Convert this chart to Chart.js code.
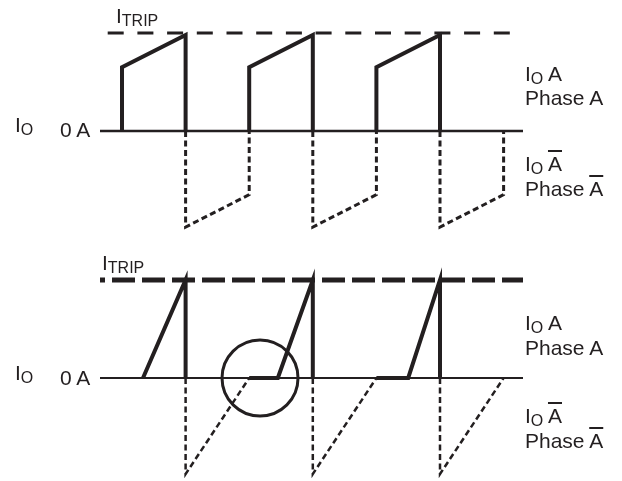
<!DOCTYPE html>
<html>
<head>
<meta charset="utf-8">
<script src="https://cdn.jsdelivr.net/npm/chart.js@4"></script>
<style>
  html, body { margin: 0; padding: 0; background: #ffffff; width: 622px; height: 481px; overflow: hidden; }
  .panel { position: absolute; left: 0; width: 622px; }
  .lbl { position: absolute; font-family: "Liberation Sans", Arial, sans-serif; font-size: 21px; line-height: 21px; color: #231f20; white-space: nowrap; }
  .sub { font-size: 16px; vertical-align: -3px; }
  .ov { text-decoration: overline; text-decoration-thickness: 2px; }
</style>
</head>
<body>
<div class="panel" style="top:0;height:240px"><canvas id="top" width="622" height="240"></canvas></div>
<div class="panel" style="top:240px;height:241px"><canvas id="bot" width="622" height="241"></canvas></div>

<div class="lbl" style="left:116px;top:5px">I<span class="sub">TRIP</span></div>
<div class="lbl" style="left:15px;top:114px">I<span class="sub">O</span></div>
<div class="lbl" style="left:60px;top:119px">0 A</div>
<div class="lbl" style="left:525px;top:63px">I<span class="sub">O</span> A</div>
<div class="lbl" style="left:525px;top:87px">Phase A</div>
<div class="lbl" style="left:525px;top:153px">I<span class="sub">O</span> <span class="ov">A</span></div>
<div class="lbl" style="left:525px;top:178px">Phase <span class="ov">A</span></div>

<div class="lbl" style="left:102px;top:252px">I<span class="sub">TRIP</span></div>
<div class="lbl" style="left:15px;top:362px">I<span class="sub">O</span></div>
<div class="lbl" style="left:60px;top:367px">0 A</div>
<div class="lbl" style="left:525px;top:312px">I<span class="sub">O</span> A</div>
<div class="lbl" style="left:525px;top:337px">Phase A</div>
<div class="lbl" style="left:525px;top:405px">I<span class="sub">O</span> <span class="ov">A</span></div>
<div class="lbl" style="left:525px;top:430px">Phase <span class="ov">A</span></div>

<script>
// ---- Data (time in half-periods, current relative to I_TRIP) ----
const tripLevel = 1;
const zeroLevel = 0;
const timeStart = -0.346;
const timeEnd = 6.305;

// Top panel: Phase A (solid) and Phase A-bar (dashed)
const topTimeA    = [0, 0,    1,    1, null, 2, 2,    3,    3, null, 4, 4,    5,    5];
const topCurrentA = [0, 0.65, 0.98, 0, null, 0, 0.65, 0.98, 0, null, 0, 0.65, 0.98, 0];
const topTimeAbar    = [1, 1,     2,     2, null, 3, 3,     4,     4, null, 5, 5,     6,     6];
const topCurrentAbar = [0, -0.98, -0.65, 0, null, 0, -0.98, -0.65, 0, null, 0, -0.98, -0.65, 0];

// Bottom panel: Phase A (solid) and Phase A-bar (dashed)
const botTimeA    = [0.33, 1, 1, null, 2, 2.45, 3, 3, null, 4, 4.5, 5, 5];
const botCurrentA = [0,    1, 0, null, 0, 0,    1, 0, null, 0, 0,   1, 0];
const botTimeAbar    = [1, 1,     2, null, 3, 3,     4, null, 5, 5,     6];
const botCurrentAbar = [0, -0.98, 0, null, 0, -0.98, 0, null, 0, -0.98, 0];

// Highlight circle (bottom panel)
const circleTime = [2.17];
const circleCurrent = [0];

// ---- helpers ----
const ink = '#231f20';
function pts(xs, ys) {
  return xs.map((x, i) => ({ x: x, y: ys[i] }));
}
function levelLine(level) {
  return [{ x: timeStart, y: level }, { x: timeEnd, y: level }];
}

function makeChart(id, cfg) {
  const datasets = [
    { data: pts(cfg.timeA, cfg.currentA), borderColor: ink, borderWidth: 4,
      borderJoinStyle: 'miter', spanGaps: false },
    { data: pts(cfg.timeAbar, cfg.currentAbar), borderColor: ink, borderWidth: cfg.dashWidth,
      borderDash: [6, 3.5], borderJoinStyle: 'miter', spanGaps: false },
  ];
  if (cfg.circle) {
    datasets.push({ data: pts(circleTime, circleCurrent), showLine: false,
      pointRadius: 38, pointHoverRadius: 38, pointBorderWidth: 3, pointBorderColor: ink,
      pointBackgroundColor: 'rgba(0,0,0,0)' });
  }
  datasets.push({ data: levelLine(tripLevel), borderColor: ink, borderWidth: cfg.tripWidth,
    borderDash: cfg.tripDash, borderDashOffset: cfg.tripOffset });
  datasets.push({ data: levelLine(zeroLevel), borderColor: ink, borderWidth: cfg.zeroWidth });

  return new Chart(document.getElementById(id), {
    type: 'line',
    data: { datasets: datasets },
    options: {
      responsive: false,
      animation: false,
      events: [],
      clip: false,
      layout: { autoPadding: false, padding: { left: 100, right: 99, top: 15, bottom: cfg.padBottom } },
      elements: { point: { radius: 0 }, line: { tension: 0, fill: false } },
      plugins: { legend: { display: false }, tooltip: { enabled: false } },
      scales: {
        x: { type: 'linear', display: false, min: timeStart, max: timeEnd },
        y: { type: 'linear', display: false, min: cfg.yMin, max: cfg.yMax }
      }
    }
  });
}

makeChart('top', {
  timeA: topTimeA, currentA: topCurrentA, timeAbar: topTimeAbar, currentAbar: topCurrentAbar,
  dashWidth: 3, tripWidth: 3, tripDash: [16, 13.7], tripOffset: 22, zeroWidth: 2.5,
  yMin: -1.0612, yMax: 1.1837, padBottom: 5, circle: false
});
makeChart('bot', {
  timeA: botTimeA, currentA: botCurrentA, timeAbar: botTimeAbar, currentAbar: botCurrentAbar,
  dashWidth: 2.5, tripWidth: 5, tripDash: [23, 7], tripOffset: 18, zeroWidth: 2,
  yMin: -1.041, yMax: 1.255, padBottom: 1, circle: true
});
</script>
</body>
</html>
